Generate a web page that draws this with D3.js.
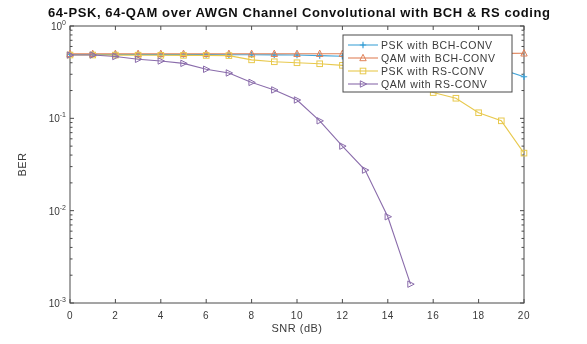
<!DOCTYPE html>
<html>
<head>
<meta charset="utf-8">
<script src="https://cdn.jsdelivr.net/npm/d3@7"></script>
<style>
  html, body { margin: 0; padding: 0; background: #fff; }
  svg { display: block; font-family: "Liberation Sans", Arial, Helvetica, sans-serif; }
</style>
</head>
<body>
<svg id="chart" width="587" height="344"></svg>
<script>
// SNR sweep (dB)
const snr = [0,1,2,3,4,5,6,7,8,9,10,11,12,13,14,15,16,17,18,19,20];

// Bit error rate per scheme
const pskBch = [0.492,0.492,0.492,0.491,0.49,0.49,0.49,0.489,0.488,0.487,0.485,0.478,0.47,0.46,0.45,0.44,0.42,0.40,0.37,0.34,0.282];
const qamBch = [0.5,0.5,0.5,0.5,0.5,0.5,0.5,0.5,0.5,0.5,0.5,0.5,0.5,0.5,0.5,0.5,0.502,0.503,0.504,0.505,0.506];
const pskRs  = [0.485,0.485,0.484,0.483,0.482,0.481,0.48,0.478,0.43,0.41,0.40,0.39,0.375,0.33,0.28,0.23,0.19,0.165,0.115,0.094,0.042];
const qamRs  = [0.485,0.485,0.467,0.436,0.418,0.394,0.34,0.31,0.245,0.203,0.158,0.094,0.050,0.0275,0.0086,0.0016];

const seriesNames = ["PSK with BCH-CONV", "QAM with BCH-CONV", "PSK with RS-CONV", "QAM with RS-CONV"];
const seriesValues = [pskBch, qamBch, pskRs, qamRs];
const seriesColors = ["#42a4d8", "#e08259", "#e8c94e", "#8a6cab"];
const seriesMarkers = ["plus", "triangleUp", "square", "triangleRight"];

const xTicks = [0,2,4,6,8,10,12,14,16,18,20];
const yDecades = [1, 0.1, 0.01, 0.001];
const yExps = ["0", "-1", "-2", "-3"];

const titleText = "64-PSK, 64-QAM over AWGN Channel Convolutional with BCH & RS coding";
const xLabel = "SNR (dB)";
const yLabel = "BER";

const svg = d3.select("#chart");

// Slight softening of the whole drawing
svg.append("defs").append("filter").attr("id", "soft")
  .attr("x", "-5%").attr("y", "-5%").attr("width", "110%").attr("height", "110%")
  .append("feGaussianBlur").attr("stdDeviation", 0.45);

const root = svg.append("g").attr("filter", "url(#soft)");
root.append("rect").attr("width", 587).attr("height", 344).attr("fill", "#fff");

const plot = { left: 70, right: 524, top: 26, bottom: 303 };
const axisColor = "#4a4a4a";
const textColor = "#3a3a3a";

const x = d3.scaleLinear().domain([0, 20]).range([plot.left, plot.right]);
const y = d3.scaleLog().domain([0.001, 1]).range([plot.bottom, plot.top]);

// Frame
root.append("rect")
  .attr("x", plot.left).attr("y", plot.top)
  .attr("width", plot.right - plot.left).attr("height", plot.bottom - plot.top)
  .attr("fill", "#fff").attr("stroke", axisColor).attr("stroke-width", 1);

// X ticks (bottom and top, inward)
const tickLen = 4;
xTicks.forEach(t => {
  root.append("line").attr("x1", x(t)).attr("x2", x(t))
    .attr("y1", plot.bottom).attr("y2", plot.bottom - tickLen)
    .attr("stroke", axisColor);
  root.append("line").attr("x1", x(t)).attr("x2", x(t))
    .attr("y1", plot.top).attr("y2", plot.top + tickLen)
    .attr("stroke", axisColor);
  root.append("text").attr("x", x(t)).attr("y", plot.bottom + 16)
    .attr("text-anchor", "middle").attr("font-size", 10).attr("fill", textColor)
    .attr("letter-spacing", 0.6)
    .text(t);
});

// Y ticks: decades with labels, minor ticks in between
const minor = [];
for (let e = -3; e < 0; e++) for (let m = 2; m <= 9; m++) minor.push(m * Math.pow(10, e));
minor.forEach(v => {
  root.append("line").attr("x1", plot.left).attr("x2", plot.left + 2.5)
    .attr("y1", y(v)).attr("y2", y(v)).attr("stroke", axisColor);
  root.append("line").attr("x1", plot.right).attr("x2", plot.right - 2.5)
    .attr("y1", y(v)).attr("y2", y(v)).attr("stroke", axisColor);
});
yDecades.forEach((v, i) => {
  root.append("line").attr("x1", plot.left).attr("x2", plot.left + tickLen)
    .attr("y1", y(v)).attr("y2", y(v)).attr("stroke", axisColor);
  root.append("line").attr("x1", plot.right).attr("x2", plot.right - tickLen)
    .attr("y1", y(v)).attr("y2", y(v)).attr("stroke", axisColor);
  const lbl = root.append("text").attr("x", plot.left - 4).attr("y", y(v) + 4)
    .attr("text-anchor", "end").attr("font-size", 10).attr("fill", textColor);
  lbl.append("tspan").text("10");
  lbl.append("tspan").attr("dy", -5).attr("font-size", 7).text(yExps[i]);
});

// Axis labels and title
root.append("text").attr("x", (plot.left + plot.right) / 2).attr("y", 332)
  .attr("text-anchor", "middle").attr("font-size", 11).attr("fill", textColor)
  .attr("letter-spacing", 0.5)
  .text(xLabel);
root.append("text")
  .attr("transform", `translate(26,${(plot.top + plot.bottom) / 2}) rotate(-90)`)
  .attr("text-anchor", "middle").attr("font-size", 11).attr("fill", textColor)
  .attr("letter-spacing", 0.5)
  .text(yLabel);
root.append("text").attr("x", 299).attr("y", 17)
  .attr("text-anchor", "middle").attr("font-size", 13).attr("font-weight", "bold")
  .attr("textLength", 502).attr("lengthAdjust", "spacing")
  .attr("fill", "#111").text(titleText);

// Marker drawing
function drawMarker(g, kind, cx, cy, color) {
  const s = 3.2;
  if (kind === "plus") {
    g.append("path").attr("d", `M${cx - s},${cy}H${cx + s}M${cx},${cy - s}V${cy + s}`)
      .attr("stroke", color).attr("stroke-width", 1.2).attr("fill", "none");
    g.append("circle").attr("cx", cx).attr("cy", cy).attr("r", 1.3).attr("fill", color);
  } else if (kind === "triangleUp") {
    g.append("path").attr("d", `M${cx},${cy - s - 0.5}L${cx + s},${cy + s - 0.5}L${cx - s},${cy + s - 0.5}Z`)
      .attr("stroke", color).attr("stroke-width", 1).attr("fill", "none");
  } else if (kind === "square") {
    g.append("rect").attr("x", cx - s + 0.4).attr("y", cy - s + 0.4)
      .attr("width", 2 * s - 0.8).attr("height", 2 * s - 0.8)
      .attr("stroke", color).attr("stroke-width", 1).attr("fill", "none");
  } else if (kind === "triangleRight") {
    g.append("path").attr("d", `M${cx + s + 0.5},${cy}L${cx - s + 0.5},${cy - s}L${cx - s + 0.5},${cy + s}Z`)
      .attr("stroke", color).attr("stroke-width", 1).attr("fill", "none");
  }
}

const plotArea = root.append("g");
const line = d3.line().x(d => x(d[0])).y(d => y(d[1]));

seriesValues.forEach((vals, i) => {
  const pts = vals.map((v, k) => [snr[k], v]);
  const g = plotArea.append("g");
  g.append("path").datum(pts).attr("d", line)
    .attr("fill", "none").attr("stroke", seriesColors[i]).attr("stroke-width", 1.1);
  pts.forEach(p => drawMarker(g, seriesMarkers[i], x(p[0]), y(p[1]), seriesColors[i]));
});

// Legend
const leg = { x: 343, y: 35, w: 169, h: 57 };
const lg = root.append("g");
lg.append("rect").attr("x", leg.x).attr("y", leg.y).attr("width", leg.w).attr("height", leg.h)
  .attr("fill", "#fff").attr("stroke", axisColor).attr("stroke-width", 1);
seriesNames.forEach((name, i) => {
  const yy = leg.y + 10 + i * 13;
  lg.append("line").attr("x1", leg.x + 5).attr("x2", leg.x + 35).attr("y1", yy).attr("y2", yy)
    .attr("stroke", seriesColors[i]).attr("stroke-width", 1.1);
  drawMarker(lg, seriesMarkers[i], leg.x + 20, yy, seriesColors[i]);
  lg.append("text").attr("x", leg.x + 38).attr("y", yy + 3.5)
    .attr("font-size", 10.5).attr("letter-spacing", 0.6)
    .attr("fill", textColor).text(name);
});
</script>
</body>
</html>
